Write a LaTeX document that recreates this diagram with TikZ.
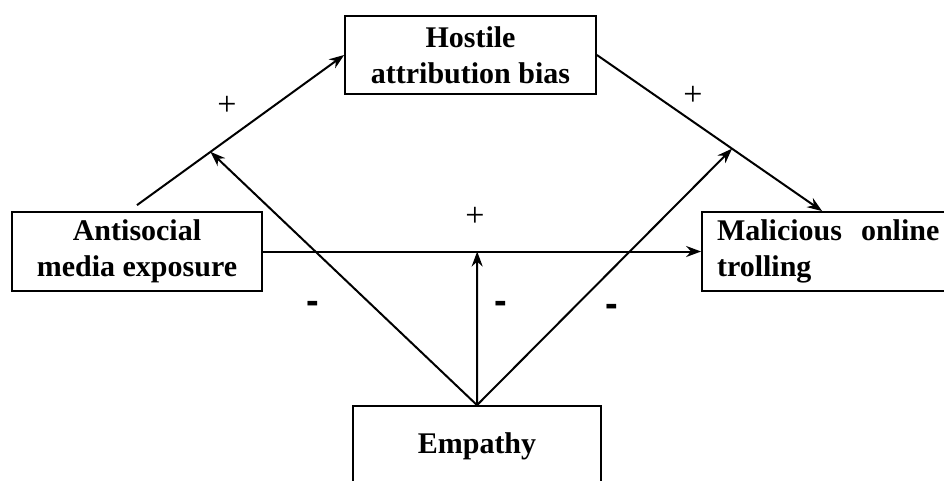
\documentclass[tikz,border=0pt]{standalone}
\usepackage{fontspec}
\setmainfont{Liberation Serif}
\newfontfamily\signfont{Liberation Sans}
\usetikzlibrary{arrows.meta,calc}
\begin{document}
\begin{tikzpicture}[x=1pt,y=-1pt,
  box/.style={draw,line width=1.8pt,inner sep=0pt,align=center,
    font=\fontsize{30}{36}\selectfont\bfseries},
  conn/.style={line width=2pt,-{Stealth[length=15pt,width=11pt]}},
  plus/.style={font=\fontsize{34}{34}\selectfont},
  minus/.style={font=\signfont\fontsize{38}{38}\selectfont\bfseries}]
\useasboundingbox (0,0) rectangle (944,480);
\clip (0,0) rectangle (944,480);
\node[box,minimum width=250pt,minimum height=79pt] (anti) at (137,251.5) {Antisocial\\media exposure};
\node[box,minimum width=251pt,minimum height=78pt] (host) at (470.5,55) {Hostile\\attribution bias};
\node[box,minimum width=288pt,minimum height=79pt,text width=258pt,align=left,inner xsep=15pt] (mal) at (846,251.5) {Malicious\hspace*{19pt}online\\trolling};
\node[box,minimum width=248pt,minimum height=80pt] (emp) at (477,446) {Empathy};
% main paths
\coordinate (astart) at ([yshift=6pt]anti.north);
\coordinate (mtop) at ($(mal.north west)+(121,0)$);
\draw[conn] (astart) -- (host.west);
\draw[conn] (host.east) -- (mtop);
\draw[conn] (anti.east) -- (mal.west);
% moderation points
\coordinate (m1) at ($(astart)!0.355!(host.west)$);
\coordinate (m2) at ($(host.east)!0.6!(mtop)$);
\coordinate (m3) at ($(anti.east)!0.489!(mal.west)$);
\draw[conn] (emp.north) -- (m1);
\draw[conn] (emp.north) -- (m3);
\draw[conn] (emp.north) -- (m2);
% labels
\node[plus] (p1) at (227,106) {+};
\node[plus] (p2) at (693,96) {+};
\node[plus] (p3) at (475,217) {+};
\node[minus] (n1) at (313,307) {-};
\node[minus] (n2) at (501,307) {-};
\node[minus] (n3) at (612,310) {-};
\end{tikzpicture}
\end{document}
